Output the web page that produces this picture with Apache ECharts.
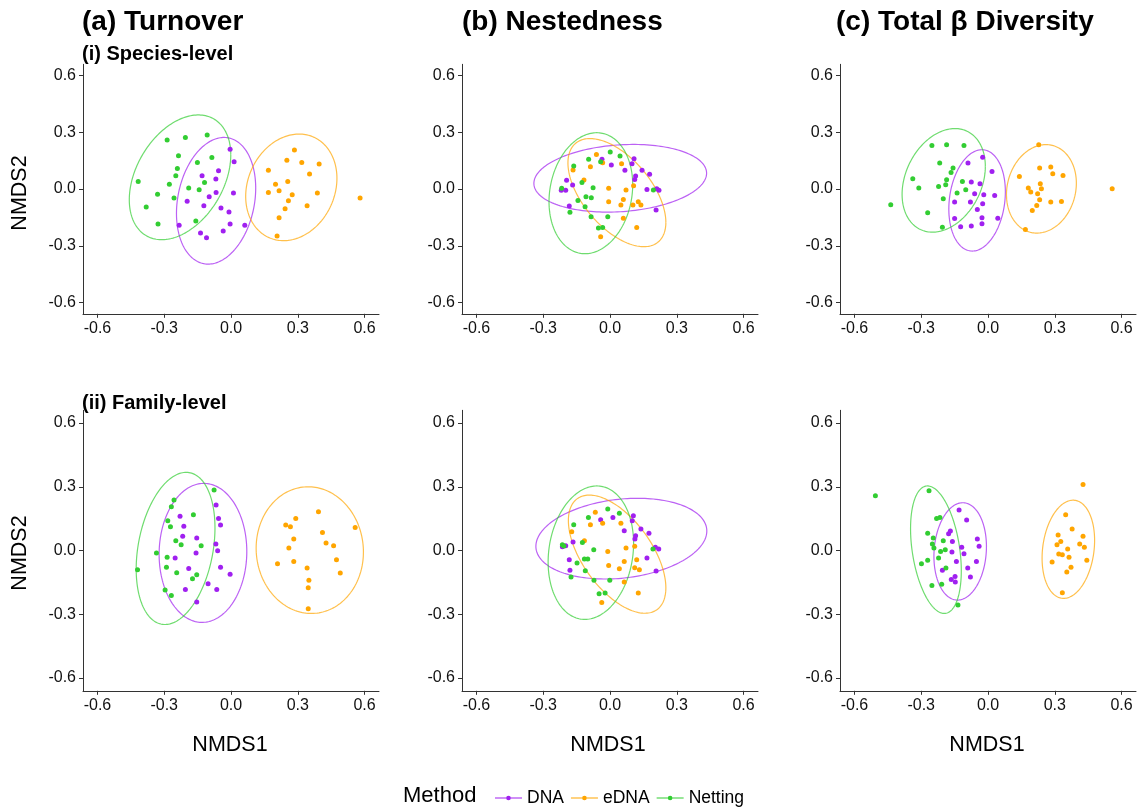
<!DOCTYPE html>
<html>
<head>
<meta charset="utf-8">
<title>NMDS ordinations by method</title>
<script src="https://cdn.jsdelivr.net/npm/echarts@6.0.0/dist/echarts.min.js"></script>
<style>
  html, body { margin: 0; padding: 0; background: #ffffff; }
  #chart { width: 1138px; height: 809px; }
</style>
</head>
<body>
<div id="chart"></div>
<script>
// ---- Shared axis ticks ----
const tickValues = [-0.6, -0.3, 0, 0.3, 0.6];
const methods = ['DNA', 'eDNA', 'Netting'];

// ---- Site scores (NMDS1, NMDS2) ----
// (a) Turnover, species level
const turnoverSpeciesDNA = [[-0.004,0.211],[0.014,0.144],[-0.056,0.097],[-0.130,0.070],[-0.068,0.053],[-0.067,-0.018],[0.011,-0.021],[-0.098,-0.041],[-0.197,-0.065],[-0.122,-0.088],[-0.045,-0.100],[-0.009,-0.122],[-0.233,-0.192],[-0.004,-0.185],[0.062,-0.192],[-0.137,-0.233],[-0.110,-0.258],[-0.035,-0.222]];
const turnoverSpeciesEDNA = [[0.285,0.206],[0.251,0.153],[0.318,0.141],[0.396,0.132],[0.168,0.100],[0.353,0.079],[0.200,0.026],[0.255,0.040],[0.168,-0.018],[0.216,-0.009],[0.275,-0.030],[0.388,-0.021],[0.258,-0.062],[0.243,-0.104],[0.342,-0.088],[0.216,-0.152],[0.207,-0.249],[0.580,-0.048]];
const turnoverSpeciesNetting = [[-0.287,0.259],[-0.205,0.273],[-0.107,0.286],[-0.236,0.176],[-0.151,0.141],[-0.086,0.167],[-0.241,0.109],[-0.248,0.070],[-0.417,0.040],[-0.277,0.026],[-0.119,0.035],[-0.190,0.005],[-0.143,-0.004],[-0.330,-0.027],[-0.256,-0.048],[-0.381,-0.095],[-0.328,-0.185],[-0.158,-0.169]];

// (b) Nestedness, species level
const nestednessSpeciesDNA = [[-0.036,0.157],[0.108,0.160],[0.006,0.127],[0.099,0.134],[0.067,0.099],[0.144,0.099],[0.178,0.078],[0.115,0.069],[0.111,0.051],[-0.195,0.046],[-0.168,0.021],[-0.219,-0.007],[-0.199,-0.007],[0.166,-0.002],[0.210,0.002],[0.220,-0.007],[-0.183,-0.090],[0.207,-0.111]];
const nestednessSpeciesEDNA = [[-0.061,0.183],[-0.033,0.139],[0.052,0.134],[-0.166,0.101],[-0.088,0.118],[-0.117,0.048],[-0.006,0.004],[0.072,-0.005],[0.106,0.018],[0.060,-0.055],[-0.006,-0.067],[0.049,-0.085],[0.103,-0.085],[0.127,-0.067],[0.139,-0.085],[0.060,-0.155],[0.120,-0.203],[-0.042,-0.252]];
const nestednessSpeciesNetting = [[0.001,0.196],[0.045,0.175],[-0.096,0.157],[-0.042,0.145],[-0.163,0.122],[-0.126,0.034],[-0.217,0.004],[-0.076,0.007],[0.195,-0.005],[-0.144,-0.060],[-0.108,-0.041],[-0.084,-0.046],[-0.112,-0.093],[-0.180,-0.123],[-0.085,-0.146],[-0.010,-0.146],[-0.052,-0.206],[-0.033,-0.203]];

// (c) Total beta diversity, species level
const totalSpeciesDNA = [[-0.024,0.168],[-0.090,0.138],[0.018,0.093],[-0.075,0.037],[-0.036,0.028],[-0.060,-0.025],[-0.019,-0.030],[0.030,-0.034],[-0.150,-0.069],[-0.079,-0.069],[-0.024,-0.078],[-0.048,-0.108],[-0.150,-0.156],[-0.027,-0.152],[0.044,-0.154],[-0.123,-0.200],[-0.075,-0.196],[-0.027,-0.184]];
const totalSpeciesEDNA = [[0.228,0.235],[0.232,0.111],[0.282,0.116],[0.291,0.081],[0.337,0.072],[0.141,0.067],[0.181,0.005],[0.192,-0.016],[0.235,0.028],[0.240,0.002],[0.223,-0.025],[0.232,-0.057],[0.282,-0.069],[0.330,-0.066],[0.219,-0.087],[0.199,-0.113],[0.168,-0.214],[0.558,0.002]];
const totalSpeciesNetting = [[-0.252,0.230],[-0.186,0.235],[-0.108,0.230],[-0.217,0.138],[-0.157,0.111],[-0.166,0.088],[-0.338,0.055],[-0.186,0.049],[-0.311,0.005],[-0.222,0.014],[-0.190,0.023],[-0.115,0.040],[-0.139,-0.021],[-0.100,-0.004],[-0.201,-0.051],[-0.437,-0.083],[-0.271,-0.126],[-0.205,-0.202]];

// (a) Turnover, family level
const turnoverFamilyDNA = [[-0.067,0.214],[-0.229,0.161],[-0.212,0.114],[-0.056,0.151],[-0.047,0.120],[-0.217,0.067],[-0.154,0.059],[-0.068,0.031],[-0.060,-0.001],[-0.157,-0.012],[-0.251,-0.035],[-0.047,-0.078],[-0.190,-0.085],[-0.004,-0.112],[-0.103,-0.156],[-0.205,-0.183],[-0.064,-0.183],[-0.154,-0.242]];
const turnoverFamilyEDNA = [[0.393,0.183],[0.291,0.151],[0.246,0.120],[0.267,0.112],[0.558,0.109],[0.411,0.085],[0.282,0.054],[0.427,0.035],[0.461,0.023],[0.260,0.012],[0.282,-0.051],[0.474,-0.043],[0.209,-0.062],[0.342,-0.082],[0.491,-0.106],[0.350,-0.140],[0.347,-0.175],[0.347,-0.274]];
const turnoverFamilyNetting = [[-0.076,0.285],[-0.256,0.238],[-0.268,0.206],[-0.169,0.169],[-0.284,0.140],[-0.272,0.112],[-0.248,0.046],[-0.224,0.027],[-0.134,0.023],[-0.335,-0.012],[-0.287,-0.032],[-0.290,-0.078],[-0.244,-0.104],[-0.154,-0.114],[-0.173,-0.133],[-0.420,-0.090],[-0.296,-0.186],[-0.268,-0.211]];

// (b) Nestedness, family level
const nestednessFamilyDNA = [[0.105,0.164],[-0.042,0.145],[0.013,0.156],[0.100,0.140],[0.064,0.093],[0.139,0.101],[0.175,0.082],[0.115,0.070],[0.112,0.054],[-0.214,0.018],[-0.199,0.023],[-0.166,0.040],[0.204,0.016],[0.219,0.007],[0.166,-0.035],[-0.183,-0.043],[-0.180,-0.093],[0.207,-0.096]];
const nestednessFamilyEDNA = [[-0.066,0.180],[-0.088,0.122],[-0.033,0.129],[0.049,0.129],[-0.172,0.089],[-0.115,0.046],[-0.010,-0.004],[0.072,0.012],[0.111,0.020],[0.120,-0.043],[0.064,-0.051],[-0.006,-0.070],[0.042,-0.086],[0.111,-0.081],[0.132,-0.090],[0.064,-0.148],[0.127,-0.200],[-0.037,-0.245]];
const nestednessFamilyNetting = [[-0.010,0.195],[0.042,0.175],[-0.097,0.156],[-0.163,0.121],[-0.214,0.027],[-0.207,0.021],[-0.124,0.038],[-0.073,0.004],[-0.115,-0.040],[-0.100,-0.040],[-0.148,-0.059],[0.193,0.007],[-0.111,-0.095],[-0.175,-0.125],[-0.072,-0.140],[-0.001,-0.140],[-0.022,-0.200],[-0.049,-0.203]];

// (c) Total beta diversity, family level
const totalFamilyDNA = [[-0.130,0.191],[-0.096,0.144],[-0.169,0.092],[-0.177,0.079],[-0.160,0.043],[-0.048,0.054],[-0.040,0.020],[-0.118,0.015],[-0.162,-0.007],[-0.108,-0.015],[-0.142,-0.051],[-0.052,-0.051],[-0.205,-0.093],[-0.091,-0.082],[-0.079,-0.125],[-0.148,-0.122],[-0.165,-0.136],[-0.147,-0.148]];
const totalFamilyEDNA = [[0.427,0.311],[0.349,0.169],[0.378,0.101],[0.315,0.073],[0.327,0.043],[0.310,0.027],[0.427,0.067],[0.412,0.031],[0.433,0.015],[0.358,0.007],[0.318,-0.016],[0.334,-0.020],[0.364,-0.032],[0.444,-0.046],[0.288,-0.054],[0.373,-0.078],[0.354,-0.101],[0.334,-0.198]];
const totalFamilyNetting = [[-0.506,0.258],[-0.265,0.282],[-0.231,0.151],[-0.216,0.156],[-0.271,0.082],[-0.246,0.059],[-0.250,0.031],[-0.243,0.012],[-0.201,0.046],[-0.213,-0.004],[-0.192,0.004],[-0.222,-0.035],[-0.271,-0.046],[-0.299,-0.062],[-0.189,-0.082],[-0.252,-0.164],[-0.208,-0.159],[-0.135,-0.256]];

// ---- 95% group ellipses: [centre x, centre y, half-width, half-height, correlation], order DNA, eDNA, Netting ----
const turnoverSpeciesEllipses   = [[-0.067,-0.062,0.178,0.335,0.20],[0.271,0.009,0.205,0.282,0.17],[-0.229,0.062,0.228,0.330,0.36]];
const nestednessSpeciesEllipses = [[0.046,0.057,0.388,0.179,0.15],[0.031,-0.019,0.220,0.286,-0.55],[-0.086,-0.022,0.188,0.320,0.14]];
const totalSpeciesEllipses      = [[-0.049,-0.060,0.127,0.268,0.17],[0.240,0.001,0.157,0.234,0.13],[-0.199,0.046,0.187,0.274,0.27]];
const turnoverFamilyEllipses    = [[-0.126,-0.011,0.197,0.327,0.02],[0.354,0.002,0.241,0.298,-0.03],[-0.249,0.010,0.177,0.358,0.27]];
const nestednessFamilyEllipses  = [[0.051,0.056,0.384,0.190,0.19],[0.032,-0.017,0.219,0.278,-0.57],[-0.086,-0.010,0.192,0.314,0.14]];
const totalFamilyEllipses       = [[-0.125,-0.004,0.118,0.229,0.10],[0.361,0.006,0.118,0.231,0.18],[-0.234,0.004,0.114,0.300,-0.33]];

// ---- Panel assembly ----
const panels = [
  { groups: [turnoverSpeciesDNA, turnoverSpeciesEDNA, turnoverSpeciesNetting], ellipses: turnoverSpeciesEllipses },
  { groups: [nestednessSpeciesDNA, nestednessSpeciesEDNA, nestednessSpeciesNetting], ellipses: nestednessSpeciesEllipses },
  { groups: [totalSpeciesDNA, totalSpeciesEDNA, totalSpeciesNetting], ellipses: totalSpeciesEllipses },
  { groups: [turnoverFamilyDNA, turnoverFamilyEDNA, turnoverFamilyNetting], ellipses: turnoverFamilyEllipses },
  { groups: [nestednessFamilyDNA, nestednessFamilyEDNA, nestednessFamilyNetting], ellipses: nestednessFamilyEllipses },
  { groups: [totalFamilyDNA, totalFamilyEDNA, totalFamilyNetting], ellipses: totalFamilyEllipses }
];

const COLORS = ['#A020F0', '#FFA500', '#32CD32'];
const FONT = "'Liberation Sans', Arial, sans-serif";
const colLeft = [83, 462, 840];
const colWidth = 296;
const rowTop = [64.3, 410.3];
const rowHeight = [249.5, 280.5];
const AX_LIMIT_X = 0.665;
const AX_LIMIT_Y = 0.66;

const fmt = v => (Math.abs(v) < 1e-9 ? 0 : v).toFixed(1);

const grids = [], xAxes = [], yAxes = [], series = [];

panels.forEach((p, i) => {
  const col = i % 3, row = Math.floor(i / 3);
  grids.push({ left: colLeft[col], top: rowTop[row], width: colWidth, height: rowHeight[row], containLabel: false });
  const axisCommon = {
    axisLine: { show: true, onZero: false, lineStyle: { color: '#333333', width: 1 } },
    axisTick: { show: true, length: 4, lineStyle: { color: '#333333', width: 1 }, customValues: tickValues },
    axisLabel: { color: '#111111', fontSize: 16, fontFamily: FONT, customValues: tickValues, formatter: fmt },
    splitLine: { show: false }
  };
  xAxes.push(Object.assign({ type: 'value', gridIndex: i, min: -AX_LIMIT_X, max: AX_LIMIT_X }, axisCommon,
    { axisLabel: Object.assign({}, axisCommon.axisLabel, { margin: 7 }) }));
  yAxes.push(Object.assign({ type: 'value', gridIndex: i, min: -AX_LIMIT_Y, max: AX_LIMIT_Y }, axisCommon,
    { axisLabel: Object.assign({}, axisCommon.axisLabel, { margin: 7 }) }));

  // group ellipses, traced in data space and mapped through the panel's axes
  series.push({
    type: 'custom',
    name: 'ellipse-' + i,
    xAxisIndex: i, yAxisIndex: i,
    coordinateSystem: 'cartesian2d',
    clip: false,
    silent: true,
    z: 2,
    data: p.ellipses.map((e, g) => e.concat([g])),
    encode: { x: 0, y: 1 },
    renderItem: function (params, api) {
      const cx = api.value(0), cy = api.value(1), hw = api.value(2), hh = api.value(3), rho = api.value(4);
      const g = api.value(5);
      const k = Math.sqrt(1 - rho * rho);
      const pts = [];
      const steps = 180;
      for (let s = 0; s <= steps; s++) {
        const t = (s / steps) * Math.PI * 2;
        pts.push(api.coord([cx + hw * Math.cos(t), cy + hh * (rho * Math.cos(t) + k * Math.sin(t))]));
      }
      return {
        type: 'polyline',
        shape: { points: pts },
        style: { stroke: COLORS[g], fill: null, lineWidth: 1.2, opacity: 0.7 }
      };
    }
  });

  p.groups.forEach((pts, g) => {
    series.push({
      type: 'scatter',
      name: methods[g],
      xAxisIndex: i, yAxisIndex: i,
      data: pts,
      symbol: 'circle',
      symbolSize: 5,
      z: 3,
      itemStyle: { color: COLORS[g], opacity: 1 },
      emphasis: { disabled: true }
    });
  });
});

// legend key: short line with a dot in the middle
const keyIcon = 'path://M0 2.05L12.5 2.05L12.5 3.15L0 3.15Z M17.5 2.05L30 2.05L30 3.15L17.5 3.15Z M12.4 2.6A2.6 2.6 0 1 1 17.6 2.6A2.6 2.6 0 1 1 12.4 2.6Z';

const textEl = (text, x, y, size, bold, extra) => Object.assign({
  type: 'text', x: x, y: y, silent: true,
  style: { text: text, fill: '#000000', font: (bold ? 'bold ' : '') + size + 'px ' + FONT, align: 'left', verticalAlign: 'middle' }
}, extra || {});

const centred = (el) => { el.style.align = 'center'; return el; };

const graphics = [
  textEl('(a) Turnover', 82, 22, 28, true),
  textEl('(b) Nestedness', 462, 22, 28, true),
  textEl('(c) Total \u03B2 Diversity', 836, 22, 28, true),
  textEl('(i) Species-level', 82, 54, 20, true),
  textEl('(ii) Family-level', 82, 403, 20, true),
  centred(textEl('NMDS1', 230, 745, 21.5, false)),
  centred(textEl('NMDS1', 608, 745, 21.5, false)),
  centred(textEl('NMDS1', 987, 745, 21.5, false)),
  centred(textEl('NMDS2', 20, 193, 21.5, false, { rotation: Math.PI / 2 })),
  centred(textEl('NMDS2', 20, 553, 21.5, false, { rotation: Math.PI / 2 })),
  textEl('Method', 403, 796, 22, false)
];

const chart = echarts.init(document.getElementById('chart'), null, { renderer: 'canvas' });
chart.setOption({
  backgroundColor: '#ffffff',
  animation: false,
  grid: grids,
  xAxis: xAxes,
  yAxis: yAxes,
  series: series,
  legend: {
    left: 490,
    top: 784,
    itemWidth: 27,
    itemHeight: 4.7,
    itemGap: 7,
    selectedMode: false,
    textStyle: { color: '#000000', fontSize: 17.5, fontFamily: FONT, padding: [0, 0, 0, 0] },
    data: methods.map(m => ({ name: m, icon: keyIcon }))
  },
  graphic: graphics
});
</script>
</body>
</html>
